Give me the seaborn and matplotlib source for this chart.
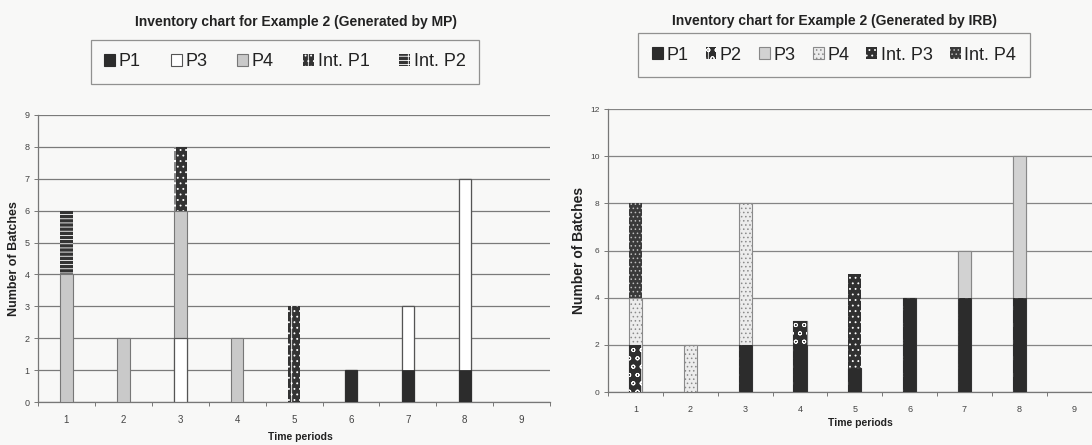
import numpy as np
import pandas as pd
import matplotlib
matplotlib.use("Agg")
import matplotlib.pyplot as plt
from matplotlib.patches import Patch
from matplotlib.ticker import FixedLocator
import seaborn as sns

# ---------------------------------------------------------------- data
periods = ["1", "2", "3", "4", "5", "6", "7", "8", "9"]

# Inventory (number of batches) per time period, schedule generated by MP
mp_series = ["P1", "P3", "P4", "Int. P1", "Int. P2"]
mp_p1 = [0, 0, 0, 0, 0, 1, 1, 1, 0]
mp_p3 = [0, 0, 2, 0, 0, 0, 2, 6, 0]
mp_p4 = [4, 2, 4, 2, 0, 0, 0, 0, 0]
mp_int_p1 = [0, 0, 2, 0, 3, 0, 0, 0, 0]
mp_int_p2 = [2, 0, 0, 0, 0, 0, 0, 0, 0]

# Inventory per time period, schedule generated by IRB
irb_series = ["P1", "P2", "P3", "P4", "Int. P3", "Int. P4"]
irb_p1 = [0, 0, 2, 2, 1, 4, 4, 4, 0]
irb_p2 = [2, 0, 0, 1, 0, 0, 0, 0, 0]
irb_p3 = [0, 0, 0, 0, 0, 0, 2, 6, 0]
irb_p4 = [2, 2, 6, 0, 0, 0, 0, 0, 0]
irb_int_p3 = [0, 0, 0, 0, 4, 0, 0, 0, 0]
irb_int_p4 = [4, 0, 0, 0, 0, 0, 0, 0, 0]

mp_ticks = list(range(0, 10))
irb_ticks = list(range(0, 13, 2))

# ---------------------------------------------------------------- style
sns.set_theme(style="white")
plt.rcParams["font.family"] = ["Liberation Sans", "DejaVu Sans"]
plt.rcParams["hatch.linewidth"] = 0.6

PAPER = "#f8f8f7"
DARK = "#2c2c2c"

mp_styles = {
    "P1": dict(face=DARK, hatch=None, hc=DARK, lw=0.6),
    "P3": dict(face="#ffffff", hatch=None, hc="#555555", lw=0.9),
    "P4": dict(face="#c9c9c9", hatch=None, hc="#777777", lw=0.8),
    "Int. P1": dict(face="#333333", hatch="|...", hc="#ffffff", lw=0),
    "Int. P2": dict(face="#333333", hatch="|----", hc="#ffffff", lw=0),
}
irb_styles = {
    "P1": dict(face=DARK, hatch=None, hc=DARK, lw=0.6),
    "P2": dict(face="#2e2e2e", hatch="oo|", hc="#ffffff", lw=0),
    "P3": dict(face="#d2d2d2", hatch=None, hc="#888888", lw=0.8),
    "P4": dict(face="#ececec", hatch="....", hc="#8a8a8a", lw=0.8),
    "Int. P3": dict(face="#303030", hatch="...", hc="#ffffff", lw=0),
    "Int. P4": dict(face="#3a3a3a", hatch="....", hc="#bdbdbd", lw=0),
}


def stacked_bars(ax, table, styles, width):
    """Stack the series by overlaying cumulative totals, top series first."""
    cum = table.cumsum(axis=1)
    for name in reversed(list(table.columns)):
        st = styles[name]
        n0 = len(ax.patches)
        sns.barplot(x=periods, y=cum[name].values, order=periods,
                    color=st["face"], saturation=1, width=width,
                    errorbar=None, ax=ax, zorder=3)
        for p in ax.patches[n0:]:
            p.set_facecolor(st["face"])
            p.set_edgecolor(st["hc"])
            p.set_linewidth(st["lw"] if p.get_height() > 0 else 0)
            if st["hatch"]:
                p.set_hatch(st["hatch"])


def style_axes(ax, ticks, grid_color, tick_fs):
    ax.set_facecolor("none")
    ax.set_ylim(ticks[0], ticks[-1])
    ax.set_yticks(ticks)
    ax.set_yticklabels([str(t) for t in ticks])
    ax.set_xlim(-0.5, len(periods) - 0.5)
    ax.yaxis.grid(True, color=grid_color, linewidth=0.9, zorder=0)
    ax.xaxis.grid(False)
    ax.set_axisbelow(True)
    for side in ("top", "right"):
        ax.spines[side].set_visible(False)
    for side in ("left", "bottom"):
        ax.spines[side].set_visible(True)
        ax.spines[side].set_color("#777777")
        ax.spines[side].set_linewidth(0.9)
    ax.xaxis.set_minor_locator(FixedLocator(np.arange(-0.5, len(periods), 1.0)))
    ax.tick_params(axis="x", which="major", length=0, pad=9,
                   labelsize=tick_fs, labelcolor="#444444")
    ax.tick_params(axis="x", which="minor", length=3, width=0.7,
                   color="#777777", direction="out", bottom=True)
    ax.tick_params(axis="y", which="major", length=3, width=0.7,
                   color="#777777", direction="out", left=True, pad=3,
                   labelsize=tick_fs - 0.5, labelcolor="#444444")


def legend_handles(series, styles):
    return [Patch(facecolor=styles[s]["face"], edgecolor=styles[s]["hc"],
                  hatch=styles[s]["hatch"],
                  linewidth=0.8 if styles[s]["lw"] else 0)
            for s in series]


def style_legend(leg):
    frame = leg.get_frame()
    frame.set_edgecolor("#777777")
    frame.set_facecolor(PAPER)
    frame.set_linewidth(0.9)
    for t in leg.get_texts():
        t.set_color("#222222")


fig = plt.figure(figsize=(10.92, 4.45), dpi=100, facecolor=PAPER)

# ---------------------------------------------------------------- MP chart
ax1 = fig.add_axes([0.0348, 0.0966, 0.469, 0.645])
mp_table = pd.DataFrame({"P1": mp_p1, "P3": mp_p3, "P4": mp_p4,
                         "Int. P1": mp_int_p1, "Int. P2": mp_int_p2},
                        index=periods)[mp_series]
stacked_bars(ax1, mp_table, mp_styles, width=0.22)
style_axes(ax1, mp_ticks, "#7a7a7a", 7)
ax1.set_xlabel("Time periods", fontsize=7.5, fontweight="bold", color="#222222")
ax1.xaxis.set_label_coords(0.512, -0.105)
ax1.set_ylabel("Number of Batches", fontsize=9, fontweight="bold", color="#222222")
ax1.yaxis.set_label_coords(-0.035, 0.5)

fig.text(296 / 1092, 0.95, "Inventory chart for Example 2 (Generated by MP)",
         ha="center", va="center", fontsize=10, fontweight="bold", color="#222222")
leg1 = fig.legend(legend_handles(mp_series, mp_styles), mp_series, loc="center",
                  bbox_to_anchor=(285 / 1092, 1 - 62 / 445), ncol=5,
                  fontsize=13, frameon=True, fancybox=False, shadow=False,
                  handlelength=0.6, handleheight=0.6, handletextpad=0.2,
                  columnspacing=1.65, borderpad=0.75)
style_legend(leg1)

# ---------------------------------------------------------------- IRB chart
ax2 = fig.add_axes([0.5568, 0.119, 0.452, 0.636])
irb_table = pd.DataFrame({"P1": irb_p1, "P2": irb_p2, "P3": irb_p3,
                          "P4": irb_p4, "Int. P3": irb_int_p3,
                          "Int. P4": irb_int_p4}, index=periods)[irb_series]
stacked_bars(ax2, irb_table, irb_styles, width=0.24)
style_axes(ax2, irb_ticks, "#858585", 6.5)
ax2.set_xlabel("Time periods", fontsize=7.5, fontweight="bold", color="#222222")
ax2.xaxis.set_label_coords(0.512, -0.09)
ax2.set_ylabel("Number of Batches", fontsize=10, fontweight="bold", color="#222222")
ax2.yaxis.set_label_coords(-0.045, 0.5)

fig.text(835 / 1092, 0.953, "Inventory chart for Example 2 (Generated by IRB)",
         ha="center", va="center", fontsize=10, fontweight="bold", color="#222222")
leg2 = fig.legend(legend_handles(irb_series, irb_styles), irb_series, loc="center",
                  bbox_to_anchor=(834 / 1092, 1 - 55 / 445), ncol=6,
                  fontsize=13, frameon=True, fancybox=False, shadow=False,
                  handlelength=0.6, handleheight=0.6, handletextpad=0.2,
                  columnspacing=0.95, borderpad=0.75)
style_legend(leg2)

fig.savefig("out.png", dpi=100, facecolor=PAPER)
